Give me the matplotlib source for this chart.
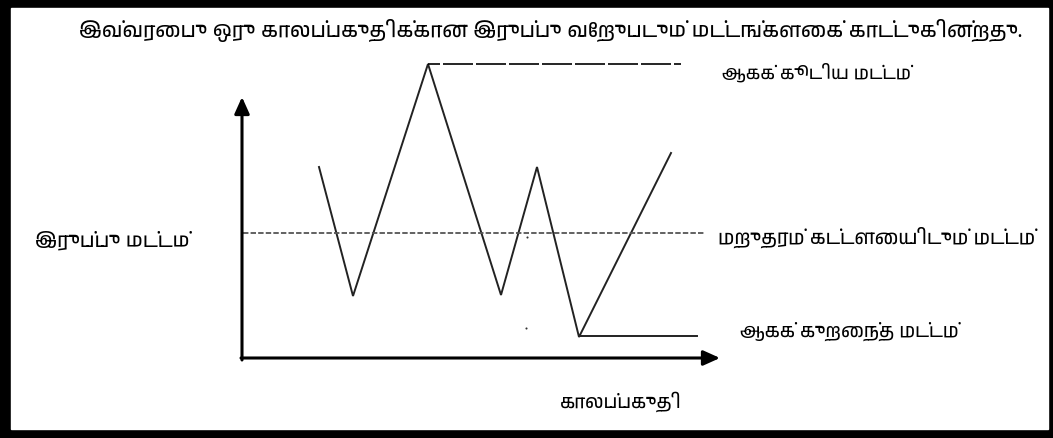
import matplotlib
matplotlib.use("Agg")
import matplotlib.pyplot as plt
from matplotlib import font_manager

# pick up whatever installed font has Tamil glyphs
tamil_fonts = [f.name for f in font_manager.fontManager.ttflist
               if "Tamil" in f.name or "Lohit" in f.name or "Latha" in f.name]

# stock level path (diagram units = pixels of the original picture)
zig_x = [319, 353, 428, 501, 537, 579, 671]
zig_y = [168, 297, 65, 296, 168, 338, 154]

max_level = 65
reorder_level = 234
min_level = 337

title = "இவ்வரைபு ஒரு காலப்பகுதிக்கான இருப்பு வேறுபடும் மட்டங்களைக் காட்டுகின்றது."
lbl_max = "ஆகக் கூடிய மட்டம்"
lbl_reorder = "மறுதரம் கட்டளையிடும் மட்டம்"
lbl_min = "ஆகக் குறைந்த மட்டம்"
lbl_y = "இருப்பு மட்டம்"
lbl_x = "காலப்பகுதி"

plt.rcParams['font.family'] = tamil_fonts[:1] + ["DejaVu Sans"]

fig = plt.figure(figsize=(10.53, 4.39), dpi=100)
ax = fig.add_axes([0, 0, 1, 1])
ax.set_xlim(0, 1053)
ax.set_ylim(439, 0)
ax.axis('off')

# black frame
ax.add_patch(plt.Rectangle((0, 0), 1053, 439, color='black', zorder=0))
ax.add_patch(plt.Rectangle((11, 9), 1037, 421, color='white', zorder=0))

# axes arrows
arrow = dict(arrowstyle="-|>,head_length=1.0,head_width=0.45", color='black',
             lw=2.2, shrinkA=0, shrinkB=0)
ax.annotate("", xy=(242, 98), xytext=(242, 361), arrowprops=arrow)
ax.annotate("", xy=(720, 359), xytext=(241, 359), arrowprops=arrow)

ax.plot(zig_x, zig_y, color='#222222', lw=1.4, solid_joinstyle='miter')
ax.plot([428, 681], [max_level, max_level], color='black', lw=1.2,
        linestyle=(10.8, (18, 1.8)))
ax.plot([243, 704], [reorder_level, reorder_level], color='#555555', lw=1.3,
        dashes=(3, 1.2))
ax.plot([579, 697], [min_level, min_level], color='#222222', lw=1.4)
ax.plot([527, 526], [238, 329], 'o', color='#333333', ms=1.5, mew=0)

ax.text(551, 30, title, fontsize=15, ha='center', va='center')
ax.text(722, 72, lbl_max, fontsize=13, ha='left', va='center')
ax.text(718, 237, lbl_reorder, fontsize=14, ha='left', va='center')
ax.text(740, 331, lbl_min, fontsize=13.5, ha='left', va='center')
ax.text(35, 240, lbl_y, fontsize=14.5, ha='left', va='center')
ax.text(621, 402, lbl_x, fontsize=13.5, ha='center', va='center')

fig.savefig("out.png", dpi=100)
